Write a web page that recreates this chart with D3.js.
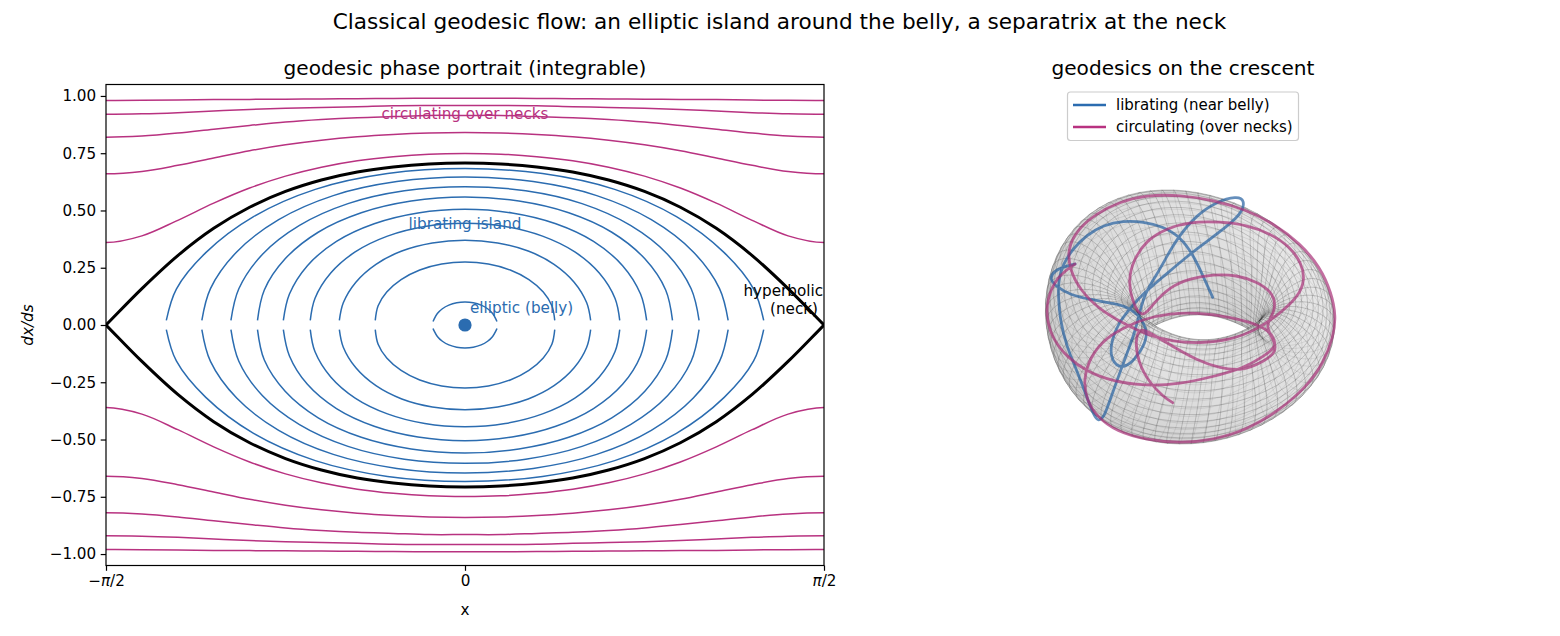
<!DOCTYPE html>
<html><head><meta charset="utf-8">
<script src="https://cdn.jsdelivr.net/npm/d3@7"></script>
<style>html,body{margin:0;padding:0;background:#fff}svg{display:block;font-family:"DejaVu Sans",sans-serif}</style>
</head><body><svg id="c" width="1560" height="636"></svg>
<script>
const figureTitle = "Classical geodesic flow: an elliptic island around the belly, a separatrix at the neck";
const leftTitle = "geodesic phase portrait (integrable)";
const rightTitle = "geodesics on the crescent";
const BLUE = "#2b6cb0", MAGENTA = "#b83280";

// x is in units of pi/2; y is dx/ds
const yTicks = [-1, -0.75, -0.5, -0.25, 0, 0.25, 0.5, 0.75, 1];
const xGrid = [0, .1, .2, .3, .4, .5, .6, .7, .8, .9, 1, 1.1];
const separatrix = [.707, .703, .690, .668, .633, .583, .514, .422, .303, .159, 0, -.159];
const circulating = [
  [.749, .746, .735, .717, .689, .650, .598, .532, .457, .389, .360, .389],
  [.840, .838, .832, .822, .807, .787, .761, .729, .697, .670, .660, .670],
  [.915, .915, .910, .905, .897, .886, .871, .855, .838, .825, .820, .825],
  [.958, .958, .957, .953, .950, .946, .941, .934, .927, .922, .920, .922],
  [.990, .990, .989, .988, .987, .986, .985, .984, .982, .981, .980, .981]
];
const librating = [
  [[0,.683],[.216,.661],[.417,.592],[.589,.473],[.722,.316],[.804,.157],[.832,.02]],
  [[0,.646],[.190,.626],[.367,.565],[.519,.460],[.636,.319],[.709,.159],[.733,.02]],
  [[0,.604],[.169,.586],[.326,.530],[.461,.435],[.564,.309],[.630,.158],[.652,.02]],
  [[0,.559],[.150,.541],[.289,.490],[.409,.405],[.501,.289],[.559,.153],[.578,.02]],
  [[0,.505],[.131,.489],[.253,.442],[.358,.365],[.439,.259],[.489,.135],[.506,.02]],
  [[0,.444],[.112,.430],[.216,.388],[.306,.319],[.374,.227],[.418,.116],[.431,.02]],
  [[0,.370],[.091,.358],[.176,.323],[.248,.265],[.304,.187],[.339,.097],[.350,.02]],
  [[0,.275],[.065,.266],[.126,.240],[.178,.198],[.218,.144],[.242,.084],[.250,.02]],
  [[0,.100],[.023,.097],[.045,.087],[.063,.071],[.077,.050],[.086,.026],[.089,.015]]
];
// geodesics traced in the projection plane of the 3D panel
const geodesicLibrating = [[548,352],[520,290],[490,225],[450,170],[400,140],[340,125],[280,122],[220,135],[170,165],[130,205],[100,250],[85,300],[85,350],[90,420],[110,500],[140,570],[170,650],[192,708],[205,724],[222,712],[240,660],[265,590],[295,510],[320,440],[340,345],[380,285],[410,230],[445,170],[500,105],[560,65],[620,48],[645,60],[635,100],[590,140],[530,185],[470,230],[400,290],[340,340],[300,385],[265,430],[245,480],[240,530],[265,565],[300,555],[335,510],[352,470],[345,435],[325,405],[295,382],[250,370],[190,360],[120,345],[80,320],[58,298],[72,272],[110,258],[135,252]];
const geodesicCirculating = [[135,252],[80,290],[50,360],[50,420],[70,480],[110,530],[170,575],[250,605],[350,618],[450,612],[550,590],[640,565],[700,530],[740,500],[730,470],[705,440],[600,410],[500,398],[420,400],[340,418],[300,435],[230,470],[180,530],[160,600],[170,660],[200,710],[260,755],[350,780],[450,790],[550,780],[650,750],[750,690],[830,620],[880,550],[910,470],[918,410],[905,340],[870,260],[810,190],[730,130],[650,90],[550,60],[450,45],[350,45],[270,65],[200,100],[140,150],[112,210],[120,270],[150,330],[210,390],[280,430],[350,465],[430,485],[510,490],[600,480],[680,450],[750,400],[805,350],[825,300],[815,250],[780,200],[720,160],[650,135],[570,125],[480,125],[410,145],[350,180],[310,240],[295,300],[305,360],[335,420],[370,370],[420,320],[480,295],[550,283],[620,285],[680,305],[725,335],[738,375],[725,410],[705,440],[738,490],[735,520],[700,545],[640,572],[570,565],[500,540],[430,500],[370,465],[330,440],[315,480],[325,550],[360,610],[400,650],[428,668]];
const legendLabels = ["librating (near belly)", "circulating (over necks)"];

const svg = d3.select("#c");
const FONT = 15.2;
const text = (x, y, s, size, o = {}) => svg.append("text").attr("x", x).attr("y", y).attr("text-anchor", o.anchor || "middle")
  .attr("font-size", size).attr("fill", o.fill || "#000").attr("font-style", o.style || null).text(s);
text(779.5, 29, figureTitle, 21.6);
text(465, 75, leftTitle, 20.1);
text(1183, 75, rightTitle, 20.1);

// ---------- left panel
const L = {x0: 106, x1: 824, y0: 84.5, y1: 565.5};
const xS = d3.scaleLinear().domain([-1, 1]).range([L.x0, L.x1]);
const yS = d3.scaleLinear().domain([-1.05, 1.05]).range([L.y1, L.y0]);
svg.append("clipPath").attr("id", "ax").append("rect").attr("x", L.x0).attr("y", L.y0).attr("width", L.x1 - L.x0).attr("height", L.y1 - L.y0);
const plot = svg.append("g").attr("clip-path", "url(#ax)");
const line = d3.line().x(d => xS(d[0])).y(d => yS(d[1])).curve(d3.curveCatmullRom.alpha(.5));
const mirror = (pts, sign) => [...pts.slice(1).reverse().map(d => [-d[0], sign * d[1]]), ...pts.map(d => [d[0], sign * d[1]])];
const onGrid = vals => vals.map((v, i) => [xGrid[i], v]);
const arcs = (curves, color, width) => [1, -1].forEach(sign => {
  plot.append("g").selectAll("path").data(curves).join("path")
    .attr("d", c => line(mirror(c, sign))).attr("fill", "none").attr("stroke", color).attr("stroke-width", width);
});
arcs(librating, BLUE, 1.5);
arcs(circulating.map(onGrid), MAGENTA, 1.5);
arcs([onGrid(separatrix)], "#000", 3);
plot.append("circle").attr("cx", xS(0)).attr("cy", yS(0)).attr("r", 6.6).attr("fill", BLUE);

const axX = svg.append("g").attr("transform", `translate(0,${L.y1})`).call(d3.axisBottom(xS).tickValues([-1, 0, 1]).tickSize(5.3).tickPadding(4.5));
axX.selectAll(".tick text").html(d => d === 0 ? "0" : `${d < 0 ? "\u2212" : ""}<tspan font-style="italic">\u03c0</tspan>/2`);
const axY = svg.append("g").attr("transform", `translate(${L.x0},0)`).call(d3.axisLeft(yS).tickValues(yTicks).tickSize(5.3).tickPadding(4.5).tickFormat(d => d3.format(".2f")(d).replace("-", "\u2212")));
[axX, axY].forEach(a => {
  a.attr("font-family", null).attr("font-size", FONT);
  a.selectAll("line").attr("stroke", "#000").attr("stroke-width", 1.2);
  a.selectAll("text").attr("fill", "#000");
  a.select(".domain").remove();
});
svg.append("rect").attr("x", L.x0).attr("y", L.y0).attr("width", L.x1 - L.x0).attr("height", L.y1 - L.y0).attr("fill", "none").attr("stroke", "#000").attr("stroke-width", 1.2);
text(465, 615, "x", FONT);
svg.append("text").attr("transform", "translate(33,325) rotate(-90)").attr("text-anchor", "middle").attr("font-size", FONT).attr("font-style", "italic").text("dx/ds");
text(465, 119, "circulating over necks", FONT, {fill: MAGENTA});
text(465, 229, "librating island", FONT, {fill: BLUE});
text(470, 313, "elliptic (belly)", FONT, {fill: BLUE, anchor: "start"});
text(823, 296, "hyperbolic", FONT, {anchor: "end"});
text(818, 314, "(neck)", FONT, {anchor: "end"});

// ---------- right panel: crescent surface
const pX = d3.scaleLinear().domain([0, 960]).range([1030, 1350]);
const pY = d3.scaleLinear().domain([0, 810]).range([180, 450]);
const view = {cx: 1190, cy: 318, elev: 53 * Math.PI / 180, bend: 0.0009, shear: 0.02, tilt: 0.03};
const shape = {outer: 144.5, lensX: 10, lensY: -10, lensA: 58, lensL: 30};
const meshRing = 72, meshTube = 40, pinch = 0.96;
const sinE = Math.sin(view.elev), cosE = Math.cos(view.elev);
function surf(phi0, th) {
  const k = pinch * Math.pow((1 - Math.cos(th)) / 2, 3);
  const phi = phi0 - k * Math.sin(2 * phi0) / 2;
  const ox = shape.outer * Math.cos(phi), oy = shape.outer * Math.sin(phi);
  const s = Math.sin(phi);
  const ix = shape.lensX + shape.lensA * Math.cos(phi), iy = shape.lensY + shape.lensL * s * Math.abs(s);
  const mx = (ox + ix) / 2, my = (oy + iy) / 2;
  const ddx = (ox - ix) / 2, ddy = (oy - iy) / 2;
  const b = Math.hypot(ddx, ddy);
  return [mx + ddx * Math.cos(th), my + ddy * Math.cos(th), b * Math.sin(th)];
}
function project(p) {
  const dy = -p[1] * sinE - p[2] * cosE + view.tilt * p[0];
  const dx = p[0] + view.shear * dy - view.bend * dy * dy;
  const depth = p[1] * cosE - p[2] * sinE;
  return {x: view.cx + dx, y: view.cy + dy, depth};
}
const light = [.5, -.3, .81];
const quads = [];
for (let i = 0; i < meshRing; i++) for (let j = 0; j < meshTube; j++) {
  const a = i / meshRing * 2 * Math.PI, a2 = (i + 1) / meshRing * 2 * Math.PI;
  const t = j / meshTube * 2 * Math.PI, t2 = (j + 1) / meshTube * 2 * Math.PI;
  const P = [surf(a, t), surf(a2, t), surf(a2, t2), surf(a, t2)];
  const u = [P[2][0] - P[0][0], P[2][1] - P[0][1], P[2][2] - P[0][2]];
  const v = [P[3][0] - P[1][0], P[3][1] - P[1][1], P[3][2] - P[1][2]];
  let n = [u[1] * v[2] - u[2] * v[1], u[2] * v[0] - u[0] * v[2], u[0] * v[1] - u[1] * v[0]];
  const len = Math.hypot(...n) || 1; n = n.map(d => d / len);
  const A = surf(a, 0), B = surf(a, Math.PI);
  const mid = [(A[0] + B[0]) / 2, (A[1] + B[1]) / 2, 0];
  const out = (P[0][0] - mid[0]) * n[0] + (P[0][1] - mid[1]) * n[1] + P[0][2] * n[2];
  if (out < 0) n = n.map(d => -d);
  const proj = P.map(project);
  quads.push({pts: proj, depth: d3.mean(proj, d => d.depth), shade: .5 + .5 * d3.sum(n, (d, k) => d * light[k])});
}
quads.sort((a, b) => b.depth - a.depth);
const grey = d3.scaleLinear().domain([0, 1]).range(["#a6a6a6", "#ededed"]);
svg.append("g").selectAll("path").data(quads).join("path")
  .attr("d", q => "M" + q.pts.map(d => d.x.toFixed(1) + "," + d.y.toFixed(1)).join("L") + "Z")
  .attr("fill", q => grey(q.shade)).attr("fill-opacity", 0.5)
  .attr("stroke", "#1c1c1c").attr("stroke-opacity", 0.22).attr("stroke-width", 0.5);

const geoLine = d3.line().x(d => pX(d[0])).y(d => pY(d[1])).curve(d3.curveBasis);
[[geodesicLibrating, "#24609f"], [geodesicCirculating, "#a83078"]].forEach(([c, col]) =>
  svg.append("path").attr("d", geoLine(c)).attr("fill", "none").attr("stroke", col).attr("stroke-width", 2.8).attr("stroke-opacity", .7).attr("stroke-linecap", "round"));

// ---------- legend
svg.append("rect").attr("x", 1067.5).attr("y", 92).attr("width", 231).attr("height", 48.5).attr("rx", 3).attr("fill", "#fff").attr("fill-opacity", .8).attr("stroke", "#ccc").attr("stroke-width", 1.2);
const legY = d3.scalePoint().domain(legendLabels).range([105, 127]);
const leg = svg.append("g").selectAll("g").data(legendLabels).join("g");
leg.append("line").attr("x1", 1073).attr("x2", 1106).attr("y1", d => legY(d)).attr("y2", d => legY(d)).attr("stroke", (d, i) => [BLUE, MAGENTA][i]).attr("stroke-width", 2.6);
leg.append("text").attr("x", 1116).attr("y", d => legY(d) + 5).attr("font-size", 15).text(d => d);
</script></body></html>
